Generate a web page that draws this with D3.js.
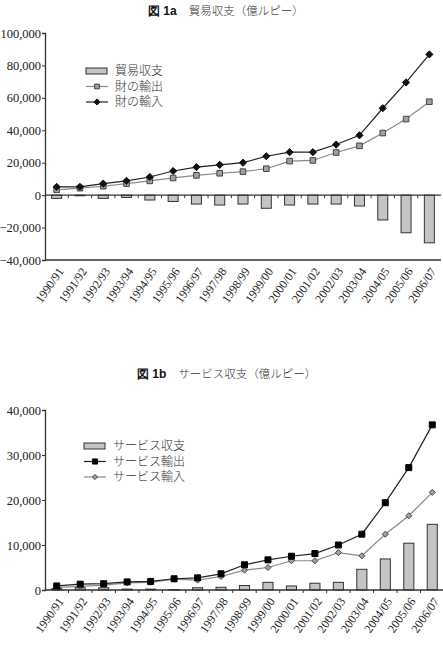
<!DOCTYPE html>
<html lang="ja">
<head>
<meta charset="UTF-8">
<title>図1a 図1b</title>
<style>
  body { margin: 0; background: #fff; }
  svg { display: block; }
</style>
<script src="https://d3js.org/d3.v7.min.js"></script>
</head>
<body>
<svg width="443" height="646"></svg>
<script>
const years = ["1990/91","1991/92","1992/93","1993/94","1994/95","1995/96","1996/97","1997/98","1998/99",
  "1999/00","2000/01","2001/02","2002/03","2003/04","2004/05","2005/06","2006/07"];

// 図1a 貿易収支
const tradeBalance = [-2000,-400,-2000,-1400,-3000,-3900,-5500,-6100,-5500,-8100,-6100,-5500,-5500,-6700,-15300,-23200,-29400];
const goodsExports = [3300,4300,5500,7100,8800,10600,12200,13500,14500,16300,21000,21400,26300,30400,38300,46900,57600];
const goodsImports = [5100,5100,7100,8800,11200,14900,17300,18700,20000,24000,26500,26500,31200,36900,53600,69500,86800];
const tradeTicks = [-40000,-20000,0,20000,40000,60000,80000,100000];

// 図1b サービス収支
const serviceBalance = [300,500,500,200,200,100,500,600,1000,1700,900,1500,1700,4600,6900,10400,14600];
const serviceExports = [900,1300,1400,1800,1900,2500,2700,3600,5600,6700,7500,8100,10000,12400,19400,27200,36700];
const serviceImports = [600,800,1100,1600,1700,2400,2200,3000,4400,5000,6500,6500,8300,7600,12400,16500,21700];
const serviceTicks = [0,10000,20000,30000,40000];

const svg = d3.select("svg");
const fmt = d3.format(",");
const SERIF = "font-family:'Liberation Serif','DejaVu Serif',serif;";
const JP = "font-family:'Noto Sans CJK JP',sans-serif;";

// diamond = square turned 45 degrees
function marker(kind, s) {
  return kind === "diamond" ? `M0,${-s}L${s},0L0,${s}L${-s},0Z`
                            : `M${-s},${-s}H${s}V${s}H${-s}Z`;
}

function drawChart(cfg) {
  const g = svg.append("g");

  // title
  const t = g.append("text").attr("x", cfg.titleX).attr("y", cfg.titleY).attr("dy", "0.35em");
  t.append("tspan").attr("style", "font-family:'Liberation Sans',Arial,sans-serif;font-size:12px;font-weight:bold;fill:#111").text(cfg.fig);
  t.append("tspan").attr("style", JP + "font-size:11.5px;font-weight:300;fill:#333").attr("dx", 12).text(cfg.title);

  const x = d3.scaleBand().domain(years).range(cfg.xRange).paddingInner(0.57).paddingOuter(0.285);
  const y = d3.scaleLinear().domain(cfg.yDomain).range(cfg.yRange);

  // y axis
  const yAxis = g.append("g").attr("transform", `translate(${cfg.xRange[0]},0)`)
    .call(d3.axisLeft(y).tickValues(cfg.ticks).tickSize(3).tickPadding(1).tickFormat(fmt));
  yAxis.select(".domain").attr("stroke", "#333").attr("stroke-width", 1.3);
  yAxis.selectAll(".tick line").attr("stroke", "#333");
  yAxis.selectAll("text").attr("style", SERIF + "font-size:12.5px;fill:#222");

  // frame line at bottom (if below zero)
  if (cfg.yDomain[0] < 0) {
    g.append("line").attr("x1", cfg.xRange[0]).attr("x2", cfg.xRange[1])
      .attr("y1", y(cfg.yDomain[0])).attr("y2", y(cfg.yDomain[0]))
      .attr("stroke", "#333").attr("stroke-width", 1.3);
  }

  // bars
  g.append("g").selectAll("rect").data(cfg.balance).join("rect")
    .attr("x", (d, i) => x(years[i]))
    .attr("width", x.bandwidth())
    .attr("y", d => y(Math.max(0, d)))
    .attr("height", d => Math.abs(y(d) - y(0)))
    .attr("fill", "#c4c4c4").attr("stroke", "#333").attr("stroke-width", 1);

  // zero axis with ticks between categories
  g.append("line").attr("x1", cfg.xRange[0]).attr("x2", cfg.xRange[1])
    .attr("y1", y(0)).attr("y2", y(0)).attr("stroke", "#333").attr("stroke-width", 1.3);
  const step = x.step();
  g.append("g").selectAll("line").data(years.slice(1)).join("line")
    .attr("x1", d => x(d) - step * x.paddingInner() / 2)
    .attr("x2", d => x(d) - step * x.paddingInner() / 2)
    .attr("y1", y(0)).attr("y2", y(0) + 3)
    .attr("stroke", "#333");

  // category labels
  const baseY = y(cfg.yDomain[0]);
  g.append("g").selectAll("text").data(years).join("text")
    .attr("style", SERIF + "font-size:12px;fill:#222")
    .attr("text-anchor", "end")
    .attr("transform", d => `translate(${x(d) + x.bandwidth() / 2 + 4},${baseY + 9}) rotate(-55)`)
    .attr("dy", "0.35em")
    .text(d => d);

  const line = d3.line().x((d, i) => x(years[i]) + x.bandwidth() / 2).y(d => y(d));

  cfg.series.forEach(s => {
    g.append("path").datum(s.values).attr("d", line)
      .attr("fill", "none").attr("stroke", s.lineColor).attr("stroke-width", 1.2);
    g.append("g").selectAll("path").data(s.values).join("path")
      .attr("d", marker(s.kind, s.r))
      .attr("transform", (d, i) => `translate(${x(years[i]) + x.bandwidth() / 2},${y(d)})`)
      .attr("fill", s.fill).attr("stroke", s.stroke).attr("stroke-width", 1);
  });

  // legend
  const lg = g.append("g").attr("transform", `translate(${cfg.legendX},${cfg.legendY})`);
  cfg.legend.forEach((item, i) => {
    const row = lg.append("g").attr("transform", `translate(0,${i * 15.5})`);
    if (item.bar) {
      row.append("rect").attr("x", 0).attr("y", -3).attr("width", 21).attr("height", 6)
        .attr("fill", "#c4c4c4").attr("stroke", "#333");
    } else {
      row.append("line").attr("x1", 0).attr("x2", 22).attr("stroke", item.lineColor).attr("stroke-width", 1.2);
      row.append("path").attr("d", marker(item.kind, item.r * 0.85))
        .attr("transform", "translate(11,0)")
        .attr("fill", item.fill).attr("stroke", item.stroke);
    }
    row.append("text").attr("style", JP + "font-size:12px;font-weight:300;fill:#333")
      .attr("x", 29).attr("dy", "0.35em").text(item.label);
  });
}

const grayLine = { lineColor: "#8a8a8a", fill: "#a0a0a0", stroke: "#444" };
const blackLine = { lineColor: "#222", fill: "#111", stroke: "#111" };

drawChart({
  fig: "図 1a", title: "貿易収支（億ルピー）", titleX: 148, titleY: 9,
  xRange: [45, 441], yDomain: [-40000, 100000], yRange: [260, 33], ticks: tradeTicks,
  balance: tradeBalance,
  series: [
    { values: goodsExports, kind: "square", r: 2.8, ...grayLine },
    { values: goodsImports, kind: "diamond", r: 3.6, ...blackLine }
  ],
  legendX: 86, legendY: 71,
  legend: [
    { label: "貿易収支", bar: true },
    { label: "財の輸出", kind: "square", r: 2.8, ...grayLine },
    { label: "財の輸入", kind: "diamond", r: 3.6, ...blackLine }
  ]
});

drawChart({
  fig: "図 1b", title: "サービス収支（億ルピー）", titleX: 137, titleY: 372,
  xRange: [45, 444], yDomain: [0, 40000], yRange: [590, 410], ticks: serviceTicks,
  balance: serviceBalance,
  series: [
    { values: serviceImports, kind: "diamond", r: 3, ...grayLine },
    { values: serviceExports, kind: "square", r: 3, lineColor: "#222", fill: "#000", stroke: "#000" }
  ],
  legendX: 84, legendY: 446,
  legend: [
    { label: "サービス収支", bar: true },
    { label: "サービス輸出", kind: "square", r: 3, lineColor: "#222", fill: "#000", stroke: "#000" },
    { label: "サービス輸入", kind: "diamond", r: 3, ...grayLine }
  ]
});
</script>
</body>
</html>
